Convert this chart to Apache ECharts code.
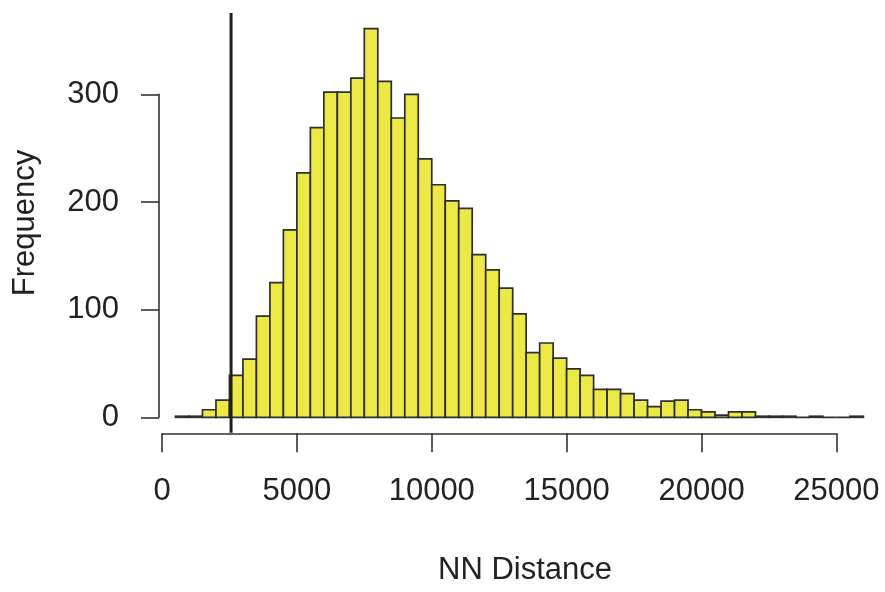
<!DOCTYPE html>
<html>
<head>
<meta charset="utf-8">
<title>NN Distance histogram</title>
<script src="https://cdn.jsdelivr.net/npm/echarts@6/dist/echarts.min.js"></script>
<style>
  html, body { margin: 0; padding: 0; background: #ffffff; }
  #chart { width: 885px; height: 592px; }
</style>
</head>
<body>
<div id="chart"></div>
<script>
// Histogram bins: left edges (bin width 500) and counts per bin
var binWidth = 500;
var binStarts = [
  500, 1000, 1500, 2000, 2500, 3000, 3500, 4000, 4500, 5000,
  5500, 6000, 6500, 7000, 7500, 8000, 8500, 9000, 9500, 10000,
  10500, 11000, 11500, 12000, 12500, 13000, 13500, 14000, 14500, 15000,
  15500, 16000, 16500, 17000, 17500, 18000, 18500, 19000, 19500, 20000,
  20500, 21000, 21500, 22000, 22500, 23000, 23500, 24000, 24500, 25000,
  25500
];
var counts = [
  1, 1, 7, 16, 39, 54, 94, 125, 174, 227,
  269, 302, 302, 315, 361, 312, 278, 300, 240, 216,
  201, 194, 151, 137, 120, 96, 60, 69, 55, 45,
  39, 26, 26, 22, 16, 10, 15, 16, 7, 5,
  2, 5, 5, 1, 1, 1, 0, 1, 0, 0,
  1
];

// Reference line (observed NN distance)
var observedDistance = 2560;

// Axis tick values
var xTicks = [0, 5000, 10000, 15000, 20000, 25000];
var yTicks = [0, 100, 200, 300];

var binData = binStarts.map(function (s, i) {
  return [s, s + binWidth, counts[i]];
});

// vertical extent of the plot region (4% padding on the count range)
var maxCount = Math.max.apply(null, counts);
var yLo = -0.04 * maxCount;
var yHi = maxCount * 1.04;

var chart = echarts.init(document.getElementById('chart'), null, { renderer: 'canvas' });

var axisColor = '#333333';
var labelColor = '#222222';
var fontFamily = '"Liberation Sans", Arial, Helvetica, sans-serif';

var option = {
  backgroundColor: '#ffffff',
  animation: false,
  grid: {
    left: 162,
    top: 94.3,
    width: 674.4,
    height: 323,
    outerBoundsMode: 'none',
    containLabel: false
  },
  xAxis: {
    type: 'value',
    min: xTicks[0],
    max: xTicks[xTicks.length - 1],
    interval: xTicks[1] - xTicks[0],
    offset: 16,
    splitLine: { show: false },
    axisLine: { show: true, onZero: false, lineStyle: { color: axisColor, width: 1.6 } },
    axisTick: { show: true, length: 19, lineStyle: { color: axisColor, width: 1.6 } },
    axisLabel: {
      show: true, margin: 43, fontSize: 31, color: labelColor, fontFamily: fontFamily,
      showMinLabel: true, showMaxLabel: true,
      formatter: function (v) { return String(v); }
    }
  },
  yAxis: {
    type: 'value',
    min: yTicks[0],
    max: yTicks[yTicks.length - 1],
    interval: yTicks[1] - yTicks[0],
    offset: 3,
    splitLine: { show: false },
    axisLine: { show: true, onZero: false, lineStyle: { color: axisColor, width: 1.6 } },
    axisTick: { show: true, length: 18, lineStyle: { color: axisColor, width: 1.6 } },
    axisLabel: {
      show: true, margin: 40, fontSize: 31, color: labelColor, fontFamily: fontFamily,
      showMinLabel: true, showMaxLabel: true,
      padding: [6, 0, 0, 0],
      formatter: function (v) { return String(v); }
    }
  },
  graphic: [
    {
      type: 'text',
      x: 525, y: 570,
      style: {
        text: 'NN Distance', fontSize: 31, fontFamily: fontFamily, fill: labelColor,
        align: 'center', verticalAlign: 'middle'
      }
    },
    {
      type: 'text',
      x: 25, y: 223,
      rotation: Math.PI / 2,
      style: {
        text: 'Frequency', fontSize: 31, fontFamily: fontFamily, fill: labelColor,
        align: 'center', verticalAlign: 'middle'
      }
    }
  ],
  series: [
    {
      type: 'custom',
      name: 'bins',
      clip: false,
      data: binData,
      encode: { x: [0, 1], y: 2 },
      renderItem: function (params, api) {
        var p0 = api.coord([api.value(0), 0]);
        var p1 = api.coord([api.value(1), api.value(2)]);
        return {
          type: 'rect',
          shape: { x: p0[0], y: p1[1], width: p1[0] - p0[0], height: p0[1] - p1[1] },
          style: { fill: '#ece946', stroke: '#2e2e2e', lineWidth: 1.7 }
        };
      },
      z: 2
    },
    {
      type: 'custom',
      name: 'observed',
      clip: false,
      data: [[observedDistance]],
      renderItem: function (params, api) {
        var a = api.coord([api.value(0), yLo]);
        var b = api.coord([api.value(0), yHi]);
        return {
          type: 'line',
          shape: { x1: a[0], y1: a[1], x2: b[0], y2: b[1] },
          style: { stroke: '#1e1e1e', lineWidth: 3 }
        };
      },
      z: 5
    }
  ]
};

chart.setOption(option);
</script>
</body>
</html>
